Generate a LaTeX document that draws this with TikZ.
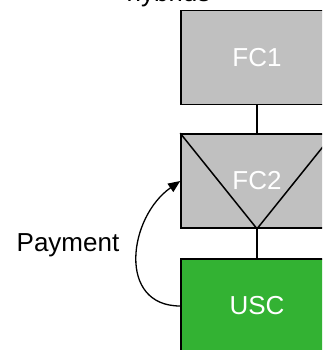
\documentclass[tikz,border=0pt]{standalone}
\usepackage{fontspec}
\setmainfont{Liberation Sans}
\usetikzlibrary{arrows.meta}
\definecolor{boxgray}{RGB}{192,192,192}
\definecolor{boxgreen}{RGB}{51,178,51}
\begin{document}
\begin{tikzpicture}[x=1pt,y=-1pt,
  unit/.style={draw=black, line width=1.6pt, minimum width=152pt, minimum height=94pt,
    inner sep=0pt, font=\fontsize{26}{30}\selectfont, text=white},
  link/.style={line width=1.5pt},
  label/.style={font=\fontsize{26}{30}\selectfont, text=black}]
\useasboundingbox (0,0) rectangle (322,350);
\clip (0,0) rectangle (322,350);

% title above the stack
\node[label, anchor=base, inner sep=0pt] (title) at (168.5,2) {hybrids};

% the three stacked units
\node[unit, fill=boxgray] (fc1) at (257,57.5) {};
\node[unit, fill=boxgray] (fc2) at (257,181) {};
\node[unit, fill=boxgreen] (usc) at (257,306) {};

% V marking on the second unit
\draw[line width=1.5pt] (fc2.north west) -- (fc2.south) -- (fc2.north east);

% unit captions
\node[unit, draw=none] (fc1t) at (fc1) {FC1};
\node[unit, draw=none] (fc2t) at (fc2) {FC2};
\node[unit, draw=none] (usct) at (usc) {USC};

% vertical links
\draw[link] (fc1.south) -- (fc2.north);
\draw[link] (fc2.south) -- (usc.north);

% payment flow
\draw[line width=1.3pt, -{Triangle[length=12pt,width=10pt]}]
  (usc.west) to[out=180, in=215, looseness=1.3] (fc2.west);
\node[label] (pay) at (68,245) {Payment};
\end{tikzpicture}
\end{document}
